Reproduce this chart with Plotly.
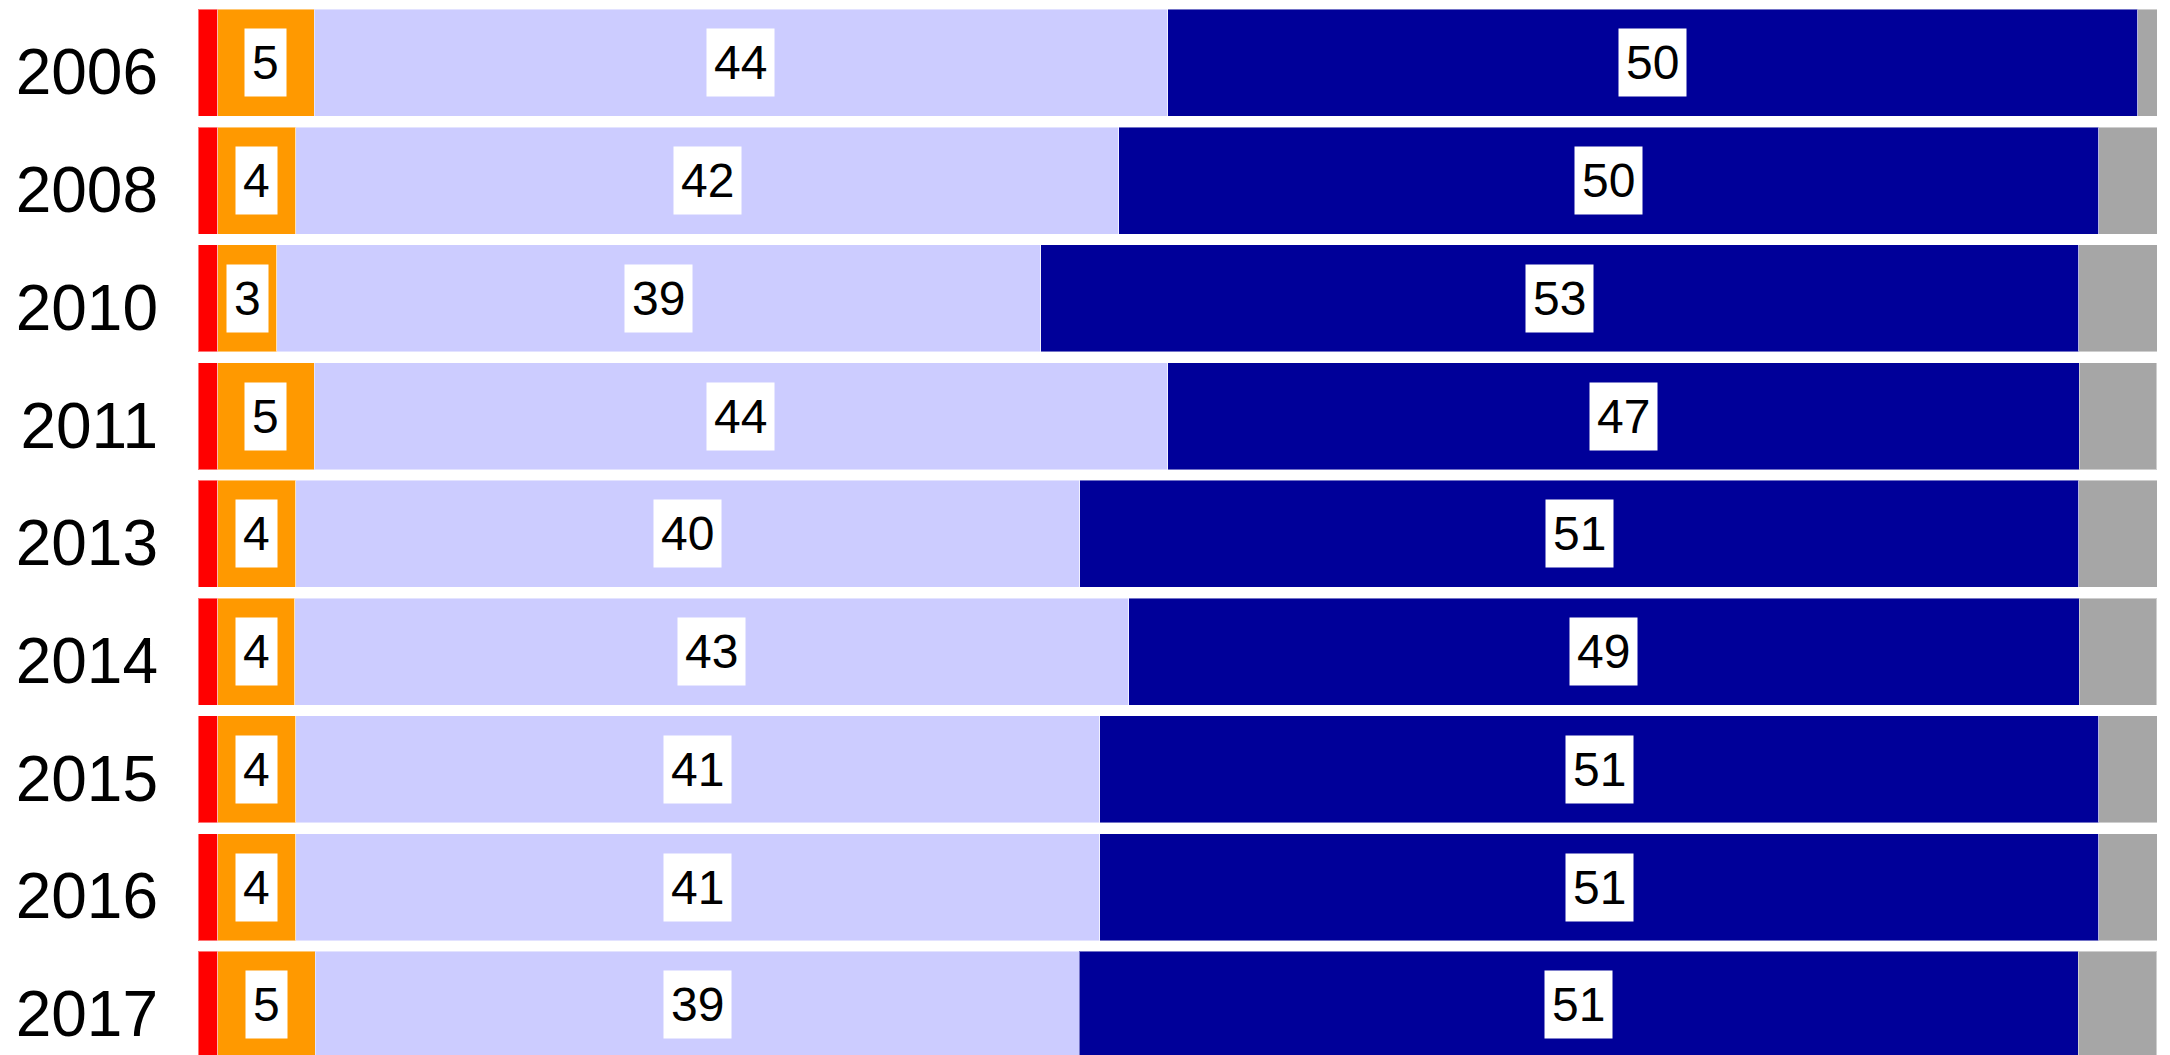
import plotly.graph_objects as go
import math

years = ["2006", "2008", "2010", "2011", "2013", "2014", "2015", "2016", "2017"]
red = [1.0, 1.0, 1.0, 1.0, 1.0, 1.0, 1.0, 1.0, 1.0]
orange = [4.94, 3.99, 3.02, 4.94, 3.99, 3.93, 4.0, 4.0, 4.99]
light = [43.55, 42.02, 39.0, 43.55, 40.02, 42.57, 41.04, 41.04, 39.0]
dark = [49.52, 50.01, 52.98, 46.54, 50.99, 48.53, 50.99, 50.99, 50.99]
gray = [0.99, 2.98, 4.0, 3.95, 4.0, 3.95, 2.98, 2.98, 4.0]

series = [
    ("red", red, "#FF0000", False),
    ("orange", orange, "#FF9900", True),
    ("light", light, "#CCCCFF", True),
    ("dark", dark, "#000099", True),
    ("gray", gray, "#A6A6A6", False),
]

FONT = "Arial, Liberation Sans, Helvetica, sans-serif"

fig = go.Figure()
for name, vals, color, _ in series:
    fig.add_trace(go.Bar(
        y=years, x=vals, orientation="h", name=name,
        marker=dict(color=color, line=dict(color="rgba(255,255,255,0.45)", width=1)),
        hoverinfo="skip",
    ))

annotations = []
cum = [0.0] * len(years)
for name, vals, color, show in series:
    for i, v in enumerate(vals):
        if show:
            annotations.append(dict(
                x=cum[i] + v / 2, y=i, xref="x", yref="y",
                text=str(int(math.floor(v + 0.5))), showarrow=False,
                bgcolor="white", borderpad=7,
                font=dict(family=FONT, size=48, color="black"),
                xanchor="center", yanchor="middle",
            ))
        cum[i] += v

fig.update_layout(
    barmode="stack",
    bargap=0.09,
    width=2170, height=1055,
    margin=dict(l=198, r=13, t=0, b=0),
    paper_bgcolor="white", plot_bgcolor="white",
    showlegend=False,
    annotations=annotations,
    font=dict(family=FONT),
)
fig.update_xaxes(range=[0, 100], visible=False, showgrid=False, zeroline=False)
fig.update_yaxes(
    type="category",
    categoryorder="array", categoryarray=years,
    range=[8.426, -0.534],
    showgrid=False, zeroline=False, showline=False, ticks="",
    tickfont=dict(family=FONT, size=64, color="black"),
    ticklabelstandoff=39, ticklabelshift=-9,
)

fig.write_html("out.html")
